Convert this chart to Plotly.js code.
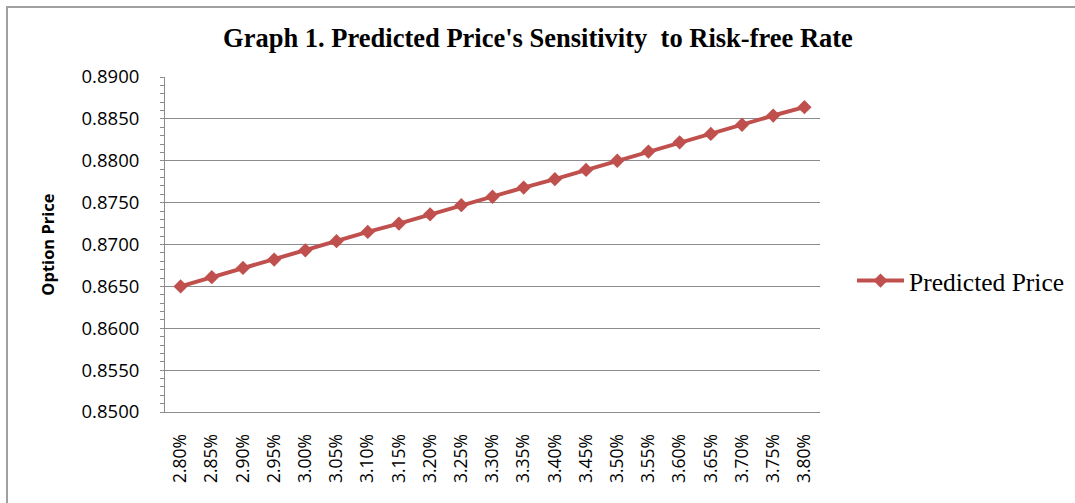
<!DOCTYPE html>
<html>
<head>
<meta charset="utf-8">
<script src="https://cdn.plot.ly/plotly-3.0.1.min.js"></script>
<style>
html,body{margin:0;padding:0;background:#fff;}
#chart{width:1075px;height:503px;}
</style>
</head>
<body>
<div id="chart"></div>
<script>
const rates = ["2.80%","2.85%","2.90%","2.95%","3.00%","3.05%","3.10%","3.15%","3.20%","3.25%","3.30%","3.35%","3.40%","3.45%","3.50%","3.55%","3.60%","3.65%","3.70%","3.75%","3.80%"];
const predictedPrice = [0.8650,0.8661,0.8672,0.8682,0.8693,0.8704,0.8715,0.8725,0.8736,0.8747,0.8757,0.8768,0.8778,0.8789,0.8800,0.8811,0.8822,0.8832,0.8843,0.8854,0.8864];
const seriesName = "Predicted Price";
const chartTitle = "Graph 1. Predicted Price's Sensitivity&nbsp; to Risk-free Rate";
const yTitle = "Option Price";

const red = "#c0504d";
const grid = "#8c8c8c";

const trace = {
  x: rates,
  y: predictedPrice,
  type: "scatter",
  mode: "lines+markers",
  name: seriesName,
  line: {color: red, width: 4},
  marker: {symbol: "diamond", size: 11, color: red}
};

const L = 165, R = 820, T = 77, B = 412;
const W = R - L, H = B - T;
const px = v => (v - L) / W;
const py = v => (B - v) / H;

const layout = {
  width: 1075, height: 503,
  margin: {l: L, r: 1075 - R, t: T, b: 503 - B, pad: 0},
  paper_bgcolor: "#fff",
  plot_bgcolor: "#fff",
  showlegend: true,
  title: {
    text: "<b>" + chartTitle + "</b>",
    font: {family: "Liberation Serif, Times New Roman, serif", size: 26.5, color: "#000"},
    x: 538 / 1075, xanchor: "center", xref: "container",
    y: 1 - 38 / 503, yanchor: "middle", yref: "container"
  },
  xaxis: {
    type: "category",
    range: [-0.5, rates.length - 0.5],
    showgrid: false,
    showline: true, linecolor: grid, linewidth: 1,
    ticks: "",
    tickangle: -90,
    tickfont: {family: "Open Sans, sans-serif", size: 17.5, color: "#000"},
    ticklabelstandoff: 14,
    zeroline: false
  },
  yaxis: {
    range: [0.85, 0.89],
    dtick: 0.005,
    tick0: 0.85,
    tickformat: ".4f",
    showgrid: true, gridcolor: grid, gridwidth: 1,
    showline: true, linecolor: grid, linewidth: 1,
    ticks: "outside", ticklen: 4, tickcolor: grid,
    minor: {dtick: 0.001, ticks: "outside", ticklen: 4, tickcolor: grid, showgrid: false},
    tickfont: {family: "Open Sans, sans-serif", size: 18.5, color: "#000"},
    ticklabelstandoff: 17,
    zeroline: false,
    title: {
      text: "<b>" + yTitle + "</b>",
      font: {family: "Open Sans, sans-serif", size: 16.5, color: "#000"},
      standoff: 22
    }
  },
  legend: {
    xref: "container", yref: "container",
    x: 852 / 1075, xanchor: "left",
    y: 1 - 281 / 503, yanchor: "middle",
    itemwidth: 47,
    font: {family: "Liberation Serif, Times New Roman, serif", size: 25.5, color: "#000"},
    bgcolor: "rgba(0,0,0,0)",
    borderwidth: 0
  },
  shapes: [{
    type: "rect", xref: "paper", yref: "paper",
    x0: px(7), x1: px(1200), y0: py(600), y1: py(7),
    line: {color: "#a0a0a0", width: 2},
    fillcolor: "rgba(0,0,0,0)",
    layer: "below"
  }]
};

Plotly.newPlot("chart", [trace], layout, {displayModeBar: false, staticPlot: true});
</script>
</body>
</html>
